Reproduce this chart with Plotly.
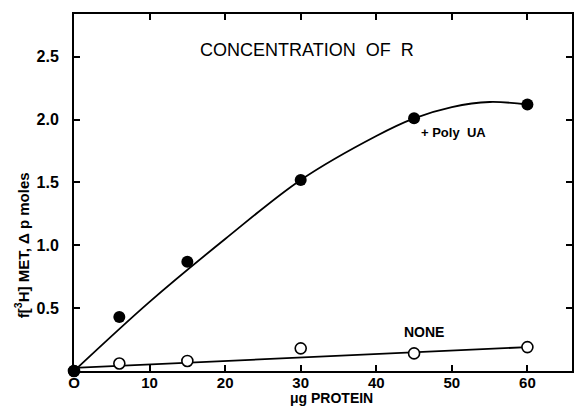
import plotly.graph_objects as go

# Data
protein_ug = [0, 6, 15, 30, 45, 60]
poly_ua = [0.0, 0.43, 0.87, 1.52, 2.01, 2.12]
none_vals = [0.0, 0.06, 0.08, 0.18, 0.14, 0.19]

# Hand-drawn fitted curves
fit_poly_x = [0, 10, 20, 30, 40, 45, 50, 55, 60]
fit_poly_y = [0.0, 0.55, 1.05, 1.52, 1.87, 2.01, 2.10, 2.14, 2.12]
fit_none_x = [0, 60]
fit_none_y = [0.025, 0.19]

xticks = [0, 10, 20, 30, 40, 50, 60]
yticks = [0.5, 1.0, 1.5, 2.0, 2.5]
ytick_text = ["0.5", "1.0", "1.5", "2.0", "2.5"]

FONT = "Liberation Sans"

fig = go.Figure()
fig.add_trace(go.Scatter(x=fit_poly_x, y=fit_poly_y, mode="lines",
                         line=dict(color="black", width=1.8, shape="spline"),
                         showlegend=False, hoverinfo="skip"))
fig.add_trace(go.Scatter(x=fit_none_x, y=fit_none_y, mode="lines",
                         line=dict(color="black", width=1.8),
                         showlegend=False, hoverinfo="skip"))
fig.add_trace(go.Scatter(x=protein_ug, y=none_vals, mode="markers",
                         marker=dict(symbol="circle", size=11, color="white",
                                     line=dict(color="black", width=1.6)),
                         showlegend=False, cliponaxis=False))
fig.add_trace(go.Scatter(x=protein_ug, y=poly_ua, mode="markers",
                         marker=dict(symbol="circle", size=12, color="black"),
                         showlegend=False, cliponaxis=False))

fig.update_layout(
    width=574, height=408,
    margin=dict(l=74, r=2, t=14, b=37, autoexpand=False),
    paper_bgcolor="white", plot_bgcolor="white",
    font=dict(family=FONT, color="black", size=14),
    xaxis=dict(range=[0, 65.9], tickvals=xticks, ticktext=["O"] + [str(v) for v in xticks[1:]],
               ticks="inside", ticklen=6, tickwidth=1.5, tickcolor="black",
               showline=True, linecolor="black", linewidth=2, mirror="ticks",
               showgrid=False, zeroline=False, automargin=False, ticklabelstandoff=-3,
               tickfont=dict(family=FONT, size=15, color="black", weight="bold")),
    yaxis=dict(range=[0, 2.84], tickvals=yticks, ticktext=ytick_text,
               ticks="inside", ticklen=6, tickwidth=1.5, tickcolor="black",
               showline=True, linecolor="black", linewidth=2, mirror="ticks",
               showgrid=False, zeroline=False, ticklabelstandoff=10, automargin=False,
               tickfont=dict(family=FONT, size=16, color="black", weight="bold")),
    annotations=[
        dict(text="CONCENTRATION  OF  R", x=0.248, y=0.9, xref="paper", yref="paper",
             xanchor="left", yanchor="middle", showarrow=False,
             font=dict(family=FONT, size=18, color="black")),
        dict(text="+ Poly  UA", x=45.7, y=1.9, xref="x", yref="y",
             xanchor="left", yanchor="middle", showarrow=False,
             font=dict(family=FONT, size=13, color="black", weight="bold")),
        dict(text="NONE", x=46.3, y=0.31, xref="x", yref="y",
             xanchor="center", yanchor="middle", showarrow=False,
             font=dict(family=FONT, size=14, color="black", weight="bold")),
        dict(text="\u03bcg PROTEIN", x=0.517, y=-0.1, xref="paper", yref="paper",
             xanchor="center", yanchor="bottom", showarrow=False, borderpad=0,
             font=dict(family=FONT, size=14, color="black", weight="bold")),
        dict(text="f[<sup>3</sup>H] MET, \u0394 p moles", x=-0.104, y=0.353,
             xref="paper", yref="paper", textangle=-90,
             xanchor="center", yanchor="middle", showarrow=False,
             font=dict(family=FONT, size=15, color="black", weight="bold")),
    ],
)

fig.write_html("out.html", config={"displayModeBar": False},
               post_script="document.body.style.margin='0px';document.body.style.padding='0px';")
